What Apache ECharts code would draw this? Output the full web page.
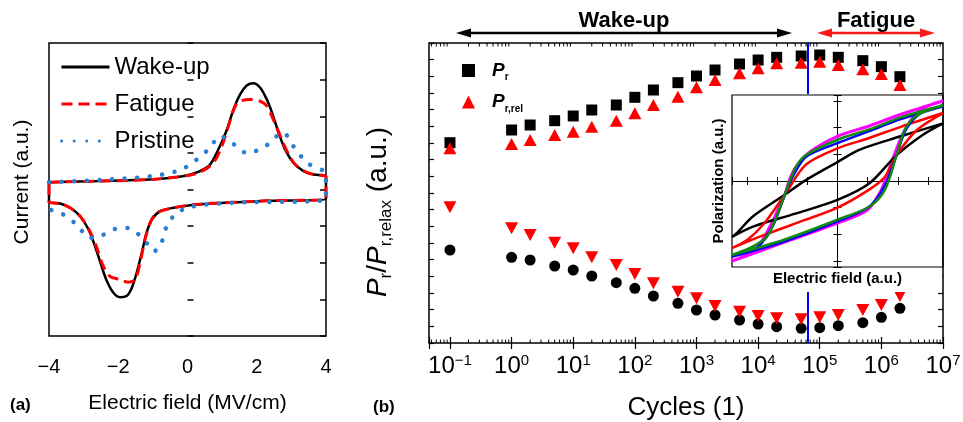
<!DOCTYPE html>
<html><head><meta charset="utf-8">
<script src="https://cdn.jsdelivr.net/npm/echarts@6/dist/echarts.min.js"></script>
<style>html,body{margin:0;padding:0;background:#fff}#c{width:963px;height:422px}</style>
</head><body><div id="c"></div>
<script>
// ---------- Panel (a): current vs electric field ----------
const aTickValues = [-4, -2, 0, 2, 4];
const aTickLabels = ['\u22124', '\u22122', '0', '2', '4'];
const wakeUp = [[-4,0.2],[-2.5,0.23],[-1.1,0.27],[-0.3,0.34],[0.0,0.39],[0.36,0.5],[0.65,0.68],[0.89,1.09],[1.14,1.64],[1.33,2.19],[1.52,2.6],[1.71,2.84],[1.9,2.9],[2.1,2.78],[2.29,2.46],[2.44,2.1],[2.63,1.55],[2.82,1.09],[3.06,0.73],[3.35,0.5],[3.64,0.41],[4,0.36],
  [4,-0.25],[2.29,-0.31],[0.36,-0.4],[-0.41,-0.5],[-0.79,-0.59],[-1.03,-0.82],[-1.18,-1.18],[-1.32,-1.73],[-1.47,-2.28],[-1.61,-2.69],[-1.75,-2.9],[-1.95,-2.94],[-2.14,-2.82],[-2.33,-2.5],[-2.48,-2.1],[-2.67,-1.55],[-2.86,-1.09],[-3.1,-0.73],[-3.39,-0.5],[-3.68,-0.38],[-4,-0.35],[-4,0.2]];
const fatigue = [[-4,0.2],[-2.5,0.23],[-1.1,0.27],[-0.3,0.34],[0.0,0.38],[0.36,0.47],[0.75,0.73],[0.99,1.18],[1.18,1.73],[1.38,2.28],[1.52,2.41],[1.81,2.46],[2.1,2.41],[2.29,2.28],[2.48,1.91],[2.68,1.46],[2.87,1.05],[3.11,0.68],[3.44,0.47],[3.7,0.4],[4,0.36],
  [4,-0.25],[2.29,-0.31],[0.36,-0.4],[-0.41,-0.5],[-0.89,-0.64],[-1.08,-0.91],[-1.23,-1.37],[-1.37,-2.0],[-1.51,-2.46],[-1.71,-2.53],[-1.95,-2.46],[-2.24,-2.37],[-2.43,-2.1],[-2.62,-1.59],[-2.82,-1.14],[-3.1,-0.73],[-3.39,-0.5],[-3.68,-0.38],[-4,-0.35],[-4,0.2]];
const pristine = [[-4,0.2],[-2.5,0.26],[-1.08,0.36],[-0.21,0.53],[0.27,0.82],[0.65,1.14],[0.94,1.46],[1.23,1.32],[1.71,1.0],[2.19,1.14],[2.58,1.46],[2.77,1.55],[3.06,1.18],[3.45,0.73],[4,0.41],
  [4,-0.27],[1.33,-0.36],[0.17,-0.46],[-0.31,-0.64],[-0.6,-1.0],[-0.79,-1.55],[-0.98,-1.69],[-1.18,-1.46],[-1.47,-1.18],[-1.75,-1.05],[-2.14,-1.09],[-2.53,-1.28],[-2.82,-1.32],[-3.2,-0.96],[-3.59,-0.68],[-3.97,-0.55]];

// ---------- Panel (b): remanent polarisation vs cycles ----------
const cycles = [0.1,1,2,5,10,20,50,100,200,500,1000,2000,5000,1e4,2e4,5e4,1e5,2e5,5e5,1e6,2e6];
const prValues = [12.02,12.78,13.08,13.34,13.62,13.98,14.28,14.74,15.18,15.62,16.02,16.38,16.74,16.98,17.14,17.22,17.28,17.14,16.94,16.58,15.98];
const prRelValues = [11.68,11.94,12.18,12.48,12.68,12.98,13.34,13.78,14.28,14.78,15.34,15.78,16.18,16.48,16.78,16.82,16.88,16.68,16.42,16.14,15.48];
const ratioCircles = [5.58,5.14,4.98,4.62,4.38,4.02,3.62,3.28,2.82,2.38,1.98,1.68,1.38,1.14,0.98,0.88,0.92,1.04,1.22,1.54,2.08];
const ratioTriangles = [8.14,6.88,6.48,6.02,5.68,5.14,4.68,4.14,3.58,3.08,2.68,2.22,1.88,1.62,1.48,1.42,1.54,1.68,1.98,2.28,2.82];
const boundaryCycle = 6.5e4;
const decadeExponents = [-1,0,1,2,3,4,5,6,7];

// ---------- Inset: hysteresis loops (normalised units) ----------
const loopMagenta = [[1,0.93],[0.59,0.77],[0.3,0.64],[0,0.52],[-0.26,0.34],[-0.39,0.17],[-0.45,0.03],[-0.5,-0.16],[-0.57,-0.35],[-0.64,-0.53],[-0.75,-0.76],[-0.87,-0.86],[-1,-0.93],
  [-0.52,-0.72],[0,-0.49],[0.28,-0.34],[0.4,-0.14],[0.45,0.0],[0.51,0.21],[0.62,0.55],[0.75,0.79],[0.87,0.88],[1,0.93]];
const loopBlack = [[1,0.67],[0.6,0.52],[0.2,0.36],[0,0.22],[-0.3,0.01],[-0.5,-0.16],[-0.8,-0.41],[-0.95,-0.6],[-1,-0.65],
  [-0.8,-0.53],[-0.4,-0.38],[0,-0.22],[0.3,-0.03],[0.56,0.3],[0.8,0.53],[1,0.67]];
const loopRed = [[1,0.79],[0.6,0.63],[0.3,0.5],[0,0.38],[-0.3,0.19],[-0.5,-0.16],[-0.7,-0.5],[-0.85,-0.68],[-1,-0.78],
  [-0.7,-0.63],[-0.3,-0.45],[0,-0.31],[0.3,-0.1],[0.45,0.05],[0.56,0.3],[0.75,0.59],[1,0.79]];
const loopBlue = [[1,0.87],[0.6,0.72],[0.3,0.58],[0,0.44],[-0.3,0.28],[-0.42,0.06],[-0.5,-0.16],[-0.6,-0.49],[-0.75,-0.76],[-1,-0.88],
  [-0.5,-0.7],[0,-0.47],[0.3,-0.3],[0.45,-0.05],[0.56,0.3],[0.65,0.6],[0.8,0.8],[1,0.87]];
const loopGreen = [[1,0.88],[0.6,0.74],[0.3,0.6],[0,0.48],[-0.3,0.3],[-0.4,0.15],[-0.5,-0.16],[-0.58,-0.42],[-0.67,-0.65],[-0.8,-0.76],[-1,-0.86],
  [-0.5,-0.68],[0,-0.45],[0.3,-0.3],[0.45,-0.1],[0.56,0.3],[0.64,0.6],[0.75,0.76],[1,0.88]];

// ---------- chart ----------
const FF = '"Liberation Sans", Arial, sans-serif';
const chart = echarts.init(document.getElementById('c'), null, {renderer: 'canvas'});

// minor log ticks (2..9 x 10^n) inside the (b) x range
const minorTicks = [];
for (let e = -2; e <= 6; e++) for (let m = 2; m <= 9; m++) {
  const v = m * Math.pow(10, e);
  if (v > 0.0457 && v < 1e7) minorTicks.push([v, 9]);
}
const tickStyle = {color: '#000', width: 1.2};

const option = {
  animation: false,
  backgroundColor: '#fff',
  textStyle: {fontFamily: FF, color: '#000'},
  grid: [
    {left: 49, top: 43, width: 277, height: 293, show: true, borderColor: '#000', borderWidth: 1.5, backgroundColor: 'transparent', containLabel: false, outerBoundsMode: 'none'},
    {left: 429, top: 43, width: 514, height: 300, show: true, borderColor: '#000', borderWidth: 1.5, backgroundColor: 'transparent', containLabel: false, outerBoundsMode: 'none'},
    {left: 732, top: 95, width: 211, height: 172, show: true, borderColor: '#000', borderWidth: 1.2, backgroundColor: 'transparent', containLabel: false, outerBoundsMode: 'none', z: 10}
  ],
  legend: [
    {left: 55, top: 50, orient: 'vertical', itemWidth: 48, itemHeight: 14, itemGap: 13, selectedMode: false,
     data: ['Wake-up', 'Fatigue', 'Pristine'],
     itemStyle: {opacity: 0},
     lineStyle: {width: 3},
     textStyle: {fontSize: 24, color: '#000', fontFamily: FF}},
    {left: 457, top: 56, orient: 'vertical', itemWidth: 13, itemHeight: 13, itemGap: 10, selectedMode: false,
     data: [{name: 'Pr', icon: 'rect'}, {name: 'Pr,rel', icon: 'triangle'}],
     itemStyle: {opacity: 1},
     formatter: n => n === 'Pr' ? '{p|P}{s|r}' : '{p|P}{s|r,rel}',
     textStyle: {color: '#000', rich: {
       p: {fontSize: 19, fontStyle: 'italic', fontWeight: 'bold', fontFamily: FF, padding: [0, 0, 0, 12], lineHeight: 24},
       s: {fontSize: 10, fontWeight: 'bold', fontFamily: FF, verticalAlign: 'bottom', lineHeight: 12}
     }}}
  ],
  xAxis: [
    {gridIndex: 0, type: 'value', min: -4, max: 4, interval: 2,
     axisLine: {show: false}, axisTick: {show: false}, splitLine: {show: false},
     axisLabel: {fontSize: 20, color: '#000', margin: 21, fontFamily: FF,
       formatter: v => { const i = aTickValues.indexOf(Math.round(v)); return i >= 0 ? aTickLabels[i] : ''; }},
     name: 'Electric field (MV/cm)', nameLocation: 'middle', nameGap: 57,
     nameTextStyle: {fontSize: 21, color: '#000', fontFamily: FF}},
    {gridIndex: 1, type: 'log', logBase: 10, min: 0.0457, max: 1e7, splitNumber: 8,
     axisLine: {show: false}, splitLine: {show: false},
     axisTick: {show: true, inside: true, length: 6, lineStyle: tickStyle},
     axisLabel: {margin: 10, color: '#000',
       formatter: v => {
         const l = Math.log10(v), e = Math.round(l);
         if (Math.abs(l - e) > 1e-6 || decadeExponents.indexOf(e) < 0) return '';
         return '{b|10}{s|' + (e < 0 ? '\u2212' + (-e) : e) + '}';
       },
       rich: {b: {fontSize: 24, fontFamily: FF, color: '#000', lineHeight: 26},
              s: {fontSize: 15, fontFamily: FF, color: '#000', verticalAlign: 'top', lineHeight: 15}}},
     name: 'Cycles (1)', nameLocation: 'middle', nameGap: 52,
     nameTextStyle: {fontSize: 26, color: '#000', fontFamily: FF}},
    {gridIndex: 1, type: 'log', logBase: 10, min: 0.0457, max: 1e7, splitNumber: 8, position: 'top',
     axisLine: {show: false}, splitLine: {show: false}, axisLabel: {show: false},
     axisTick: {show: true, inside: true, length: 6, lineStyle: tickStyle}},
    {gridIndex: 2, type: 'value', min: -1, max: 1, minInterval: 2 / 7, maxInterval: 2 / 7, z: 10,
     axisLine: {show: false}, splitLine: {show: false}, axisLabel: {show: false},
     axisTick: {show: true, inside: true, length: 4, lineStyle: {color: '#000', width: 1}},
     name: 'Electric field (a.u.)', nameLocation: 'middle', nameGap: 4,
     nameTextStyle: {fontSize: 15, fontWeight: 'bold', color: '#000', fontFamily: FF, verticalAlign: 'top'}},
    {gridIndex: 2, type: 'value', min: -1, max: 1, minInterval: 2 / 7, maxInterval: 2 / 7, position: 'top', z: 10,
     axisLine: {show: false}, splitLine: {show: false}, axisLabel: {show: false},
     axisTick: {show: true, inside: true, length: 4, lineStyle: {color: '#000', width: 1}}}
  ],
  yAxis: [
    {gridIndex: 0, type: 'value', min: -4, max: 4, interval: 1,
     axisLine: {show: false}, splitLine: {show: false}, axisLabel: {show: false},
     axisTick: {show: true, inside: true, length: 6, lineStyle: {color: '#000', width: 1.5}}},
    {gridIndex: 0, type: 'value', min: -4, max: 4, interval: 1, position: 'right',
     axisLine: {show: false}, splitLine: {show: false}, axisLabel: {show: false},
     axisTick: {show: true, inside: true, length: 6, lineStyle: {color: '#000', width: 1.5}}},
    {gridIndex: 1, type: 'value', min: 0, max: 18, interval: 1,
     axisLine: {show: false}, splitLine: {show: false}, axisLabel: {show: false},
     axisTick: {show: true, inside: true, length: 5, lineStyle: tickStyle}},
    {gridIndex: 1, type: 'value', min: 0, max: 18, interval: 1, position: 'right',
     axisLine: {show: false}, splitLine: {show: false}, axisLabel: {show: false},
     axisTick: {show: true, inside: true, length: 5, lineStyle: tickStyle}},
    {gridIndex: 2, type: 'value', min: -1, max: 1, minInterval: 0.31, maxInterval: 0.31, z: 10,
     axisLine: {show: false}, splitLine: {show: false}, axisLabel: {show: false},
     axisTick: {show: true, inside: true, length: 4, lineStyle: {color: '#000', width: 1}},
     name: 'Polarization (a.u.)', nameLocation: 'middle', nameGap: 6,
     nameTextStyle: {fontSize: 15, fontWeight: 'bold', color: '#000', fontFamily: FF}},
    {gridIndex: 2, type: 'value', min: -1, max: 1, minInterval: 0.31, maxInterval: 0.31, position: 'right', z: 10,
     axisLine: {show: false}, splitLine: {show: false}, axisLabel: {show: false},
     axisTick: {show: true, inside: true, length: 4, lineStyle: {color: '#000', width: 1}}}
  ],
  graphic: {elements: [
    // white box behind the inset
    {type: 'rect', z: 5, shape: {x: 702, y: 94, width: 240, height: 198}, style: {fill: '#fff'}},
    {type: 'text', x: 10, y: 405, style: {text: '(a)', fontSize: 17, fontWeight: 'bold', fill: '#000', fontFamily: FF, verticalAlign: 'middle'}},
    {type: 'text', x: 373, y: 407, style: {text: '(b)', fontSize: 17, fontWeight: 'bold', fill: '#000', fontFamily: FF, verticalAlign: 'middle'}},
    {type: 'text', x: 22, y: 182, rotation: Math.PI / 2,
     style: {text: 'Current (a.u.)', fontSize: 21, fill: '#000', fontFamily: FF, align: 'center', verticalAlign: 'middle'}},
    {type: 'text', x: 378, y: 212, rotation: Math.PI / 2,
     style: {text: '{p|P}{s|r}{q|/}{p|P}{s|r,relax}{q| (a.u.)}', align: 'center', verticalAlign: 'middle', fill: '#000',
       rich: {p: {fontSize: 28, fontFamily: FF, fontStyle: 'italic', fill: '#000', lineHeight: 34},
              q: {fontSize: 28, fontFamily: FF, fill: '#000', lineHeight: 34},
              s: {fontSize: 17, fontFamily: FF, fill: '#000', verticalAlign: 'bottom', lineHeight: 20}}}},
    {type: 'text', x: 624, y: 21, style: {text: 'Wake-up', fontSize: 22, fontWeight: 'bold', fill: '#000', fontFamily: FF, align: 'center', verticalAlign: 'middle'}},
    {type: 'text', x: 876, y: 21, style: {text: 'Fatigue', fontSize: 22, fontWeight: 'bold', fill: '#000', fontFamily: FF, align: 'center', verticalAlign: 'middle'}},
    {type: 'line', shape: {x1: 466, y1: 33, x2: 782, y2: 33}, style: {stroke: '#000', lineWidth: 2.5}},
    {type: 'polygon', shape: {points: [[456, 33], [471, 28.5], [471, 37.5]]}, style: {fill: '#000'}},
    {type: 'polygon', shape: {points: [[792, 33], [777, 28.5], [777, 37.5]]}, style: {fill: '#000'}},
    {type: 'line', shape: {x1: 827, y1: 33, x2: 925, y2: 33}, style: {stroke: '#ff1a1a', lineWidth: 2.5}},
    {type: 'polygon', shape: {points: [[817, 33], [832, 28.5], [832, 37.5]]}, style: {fill: '#ff1a1a'}},
    {type: 'polygon', shape: {points: [[935, 33], [920, 28.5], [920, 37.5]]}, style: {fill: '#ff1a1a'}}
  ]},
  series: [
    // panel (a)
    {name: 'Wake-up', type: 'line', xAxisIndex: 0, yAxisIndex: 0, data: wakeUp, smooth: 0.3, symbol: 'none',
     lineStyle: {color: '#000', width: 2.5}, itemStyle: {color: '#000'}},
    {name: 'Fatigue', type: 'line', xAxisIndex: 0, yAxisIndex: 0, data: fatigue, smooth: 0.3, symbol: 'none',
     lineStyle: {color: '#ff0000', width: 3, type: [11, 6]}, itemStyle: {color: '#ff0000'}},
    {name: 'Pristine', type: 'line', xAxisIndex: 0, yAxisIndex: 0, data: pristine, smooth: 0.3, symbol: 'none',
     lineStyle: {color: '#2a7fd2', width: 4.5, type: [0.1, 12.5], cap: 'round'}, itemStyle: {color: '#2a7fd2'}},
    // panel (b)
    {name: 'Pr', type: 'scatter', xAxisIndex: 1, yAxisIndex: 2, symbol: 'rect', symbolSize: 11,
     data: cycles.map((c, i) => [c, prValues[i]]), itemStyle: {color: '#000', opacity: 1},
     markLine: {silent: true, z: 3, symbol: 'none', label: {show: false}, lineStyle: {color: '#0000ff', width: 2, type: 'solid'},
       data: [{xAxis: boundaryCycle}]}},
    {name: 'Pr,rel', type: 'scatter', xAxisIndex: 1, yAxisIndex: 2, symbol: 'triangle', symbolSize: [13, 12],
     data: cycles.map((c, i) => [c, prRelValues[i]]), itemStyle: {color: '#ff0000', opacity: 1}},
    {name: 'ratio', type: 'scatter', xAxisIndex: 1, yAxisIndex: 2, symbol: 'circle', symbolSize: 11,
     data: cycles.map((c, i) => [c, ratioCircles[i]]), itemStyle: {color: '#000', opacity: 1}},
    {name: 'ratioRel', type: 'scatter', xAxisIndex: 1, yAxisIndex: 2, symbol: 'triangle', symbolRotate: 180, symbolSize: [13, 12],
     data: cycles.map((c, i) => [c, ratioTriangles[i]]), itemStyle: {color: '#ff0000', opacity: 1}},
    {name: 'minorTicks', type: 'custom', xAxisIndex: 1, yAxisIndex: 2, silent: true, data: minorTicks,
     renderItem: (params, api) => {
       const v = api.value(0);
       const b = api.coord([v, 0]), t = api.coord([v, 18]);
       return {type: 'group', children: [
         {type: 'line', shape: {x1: b[0], y1: b[1], x2: b[0], y2: b[1] - 3.5}, style: {stroke: '#000', lineWidth: 1}},
         {type: 'line', shape: {x1: t[0], y1: t[1], x2: t[0], y2: t[1] + 3.5}, style: {stroke: '#000', lineWidth: 1}}
       ]};
     }},
    // inset
    {name: 'loopMagenta', type: 'line', xAxisIndex: 3, yAxisIndex: 4, z: 11, data: loopMagenta, smooth: 0.3, symbol: 'none',
     lineStyle: {color: '#ff00ff', width: 3},
     markLine: {silent: true, z: 11, symbol: 'none', label: {show: false}, lineStyle: {color: '#000', width: 1, type: 'solid'},
       data: [{xAxis: 0}, {yAxis: 0}]}},
    {name: 'loopBlack', type: 'line', xAxisIndex: 3, yAxisIndex: 4, z: 11, data: loopBlack, smooth: 0.3, symbol: 'none', lineStyle: {color: '#000', width: 2.5}},
    {name: 'loopRed', type: 'line', xAxisIndex: 3, yAxisIndex: 4, z: 11, data: loopRed, smooth: 0.3, symbol: 'none', lineStyle: {color: '#ff0000', width: 2.5}},
    {name: 'loopBlue', type: 'line', xAxisIndex: 3, yAxisIndex: 4, z: 11, data: loopBlue, smooth: 0.3, symbol: 'none', lineStyle: {color: '#0000ff', width: 2.5}},
    {name: 'loopGreen', type: 'line', xAxisIndex: 3, yAxisIndex: 4, z: 11, data: loopGreen, smooth: 0.3, symbol: 'none', lineStyle: {color: '#118a11', width: 2.5}}
  ]
};
chart.setOption(option);
</script>
</body></html>
